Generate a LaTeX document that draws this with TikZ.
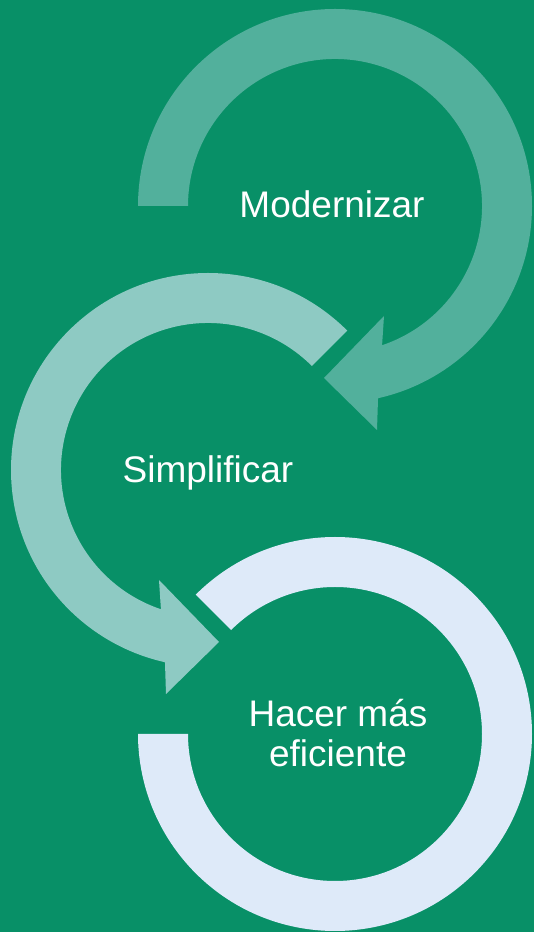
\documentclass[tikz,border=0pt]{standalone}
\usepackage{fontspec}
\setmainfont{Liberation Sans}
\usetikzlibrary{calc}
\definecolor{bg}{HTML}{089067}
\definecolor{arcA}{HTML}{52B09C}
\definecolor{arcB}{HTML}{8ECAC3}
\definecolor{arcC}{HTML}{DEEAF9}
\begin{document}
\begin{tikzpicture}[x=1pt,y=1pt,
  lbl/.style={text=white,font=\fontsize{37}{40}\selectfont,align=center,inner sep=0pt}]
\fill[bg] (0,0) rectangle (534,932);
\useasboundingbox (0,0) rectangle (534,932);
\coordinate (c1) at (335,726);
\coordinate (c2) at (208,462);
\coordinate (c3) at (335,198);
% arc 1
\fill[arcA] ($(c1)+(180:197)$) arc[start angle=180,end angle=-77.38,radius=197]
  -- ($(c1)+(42,-224)$) -- ($(c1)+(-11,-172)$) -- ($(c1)+(49,-110)$)
  -- ($(c1)+(-71.32:147)$) arc[start angle=-71.32,end angle=180,radius=147] -- cycle;
% arc 2
\fill[arcB] ($(c2)+(45:197)$) arc[start angle=45,end angle=257.38,radius=197]
  -- ($(c2)+(-42,-224)$) -- ($(c2)+(11,-172)$) -- ($(c2)+(-49,-110)$)
  -- ($(c2)+(251.32:147)$) arc[start angle=251.32,end angle=45,radius=147] -- cycle;
% arc 3
\fill[arcC] ($(c3)+(135:197)$) arc[start angle=135,end angle=-180,radius=197]
  -- ($(c3)+(180:147)$) arc[start angle=-180,end angle=135,radius=147] -- cycle;
\node[lbl,anchor=base] (t1) at (332,714) {Modernizar};
\node[lbl,anchor=base] (t2) at (208,449) {Simplificar};
\node[lbl] (t3) at (338,198.5) {Hacer más\\eficiente};
\end{tikzpicture}
\end{document}
